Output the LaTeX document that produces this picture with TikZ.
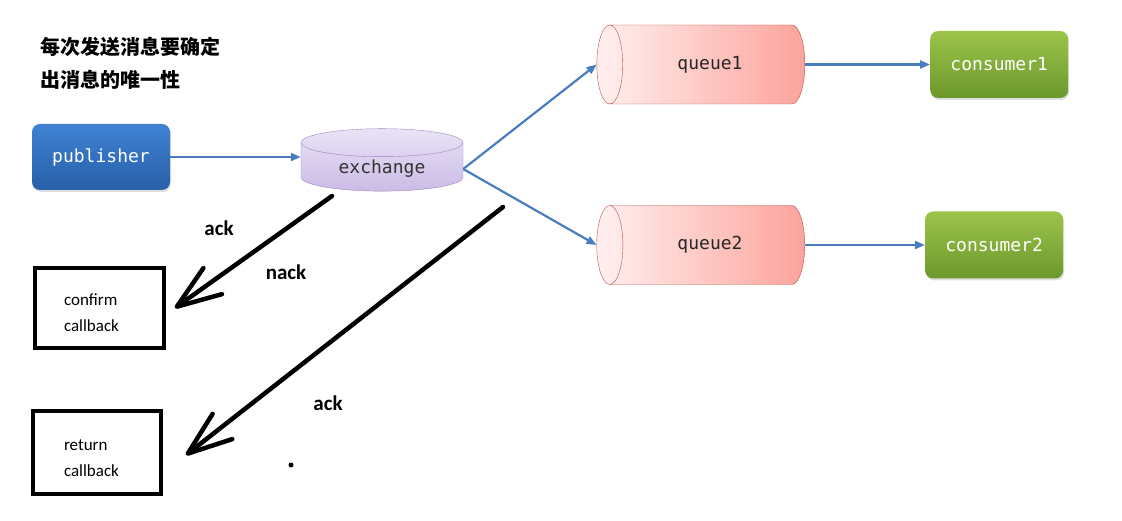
\documentclass[tikz,border=0pt]{standalone}
\usepackage{fontspec}
\setmainfont{Carlito}
\setmonofont{DejaVu Sans Mono}
\newfontfamily\cjk{Noto Sans CJK SC}
\usetikzlibrary{arrows.meta,positioning,calc,shapes.geometric,shadows}

\definecolor{flowblue}{HTML}{4A7CC0}
\definecolor{pubtop}{HTML}{3F82D4}
\definecolor{pubbot}{HTML}{2860A8}
\definecolor{exctop}{HTML}{EAE3F6}
\definecolor{excbot}{HTML}{CBBBE6}
\definecolor{excline}{HTML}{9A88C0}
\definecolor{qleft}{HTML}{FFF0F0}
\definecolor{qright}{HTML}{FCA39B}
\definecolor{qline}{HTML}{B8504A}
\definecolor{contop}{HTML}{9CC44B}
\definecolor{conbot}{HTML}{6C982C}

\begin{document}
\begin{tikzpicture}[x=1pt, y=-1pt,
  mono/.style={font=\ttfamily\fontsize{18}{22}\selectfont},
  pubbox/.style={mono, rounded corners=8pt, minimum width=138pt, minimum height=66pt, text=white, top color=pubtop, bottom color=pubbot, drop shadow={opacity=0.25, shadow xshift=1pt, shadow yshift=-2pt}},
  conbox/.style={mono, rounded corners=8pt, minimum width=138pt, minimum height=67pt, text=white, top color=contop, bottom color=conbot, drop shadow={opacity=0.25, shadow xshift=1pt, shadow yshift=-2pt}},
  exch/.style={mono, cylinder, shape border rotate=90, aspect=0.3, draw=excline, top color=exctop, bottom color=excbot, minimum width=162pt, minimum height=36pt, text=black!80},
  queue/.style={mono, cylinder, shape border rotate=180, aspect=1.1, draw=qline, left color=qleft, right color=qright, minimum width=79pt, minimum height=208pt, text=black!85},
  cbbox/.style={draw, line width=4pt, align=left, text width=71pt, inner xsep=29pt, font=\fontsize{17}{26}\selectfont},
  flow/.style={-{Triangle[length=10pt, width=8pt]}, flowblue, line width=2.2pt},
  hand/.style={-{Straight Barb[length=44pt, width=32pt, round]}, line width=4.5pt, line cap=round},
  tag/.style={font=\bfseries\fontsize{21}{24}\selectfont}
]
\useasboundingbox (0,0) rectangle (1122,521);

% title
\node[align=left, anchor=west, font=\cjk\bfseries\fontsize{20}{33}\selectfont] (title) at (37,63) {每次发送消息要确定\\出消息的唯一性};

% message flow
\node[pubbox] (pub) at (101,157) {publisher};
\node[exch] (ex) at (382,169) {exchange};
\node[queue] (q1) at (710,64.5) {queue1};
\node[queue] (q2) at (710,245) {queue2};
\node[conbox, right=125pt of q1] (c1) {consumer1};
\node[conbox, right=120pt of q2] (c2) {consumer2};

\draw[flow] (pub) -- (pub -| ex.west);
\draw[flow] (ex.east) -- (q1.west);
\draw[flow] (ex.east) -- (q2.west);
\draw[flow] (q1) -- (c1);
\draw[flow] (q2) -- (c2);

% callbacks
\node[cbbox, minimum height=80pt] (confirm) at (99.5,308) {\rule{0pt}{22pt}confirm\\callback};
\node[cbbox, minimum height=83pt, text width=66pt, inner xsep=31pt] (ret) at (97,452.5) {\rule{0pt}{22pt}return\\callback};

\coordinate (from1) at (332,196);
\coordinate (from2) at (503,207);
\draw[hand] (from1) -- ($(confirm.east)+(9,0)$);
\draw[hand] (from2) -- ($(ret.east)+(23,2.5)$);

\node[tag] (ack1) at (219,228) {ack};
\node[tag] (nack) at (286,272) {nack};
\node[tag] (ack2) at (328,403) {ack};
\node[circle, fill, inner sep=0pt, minimum size=5pt] (dot) at (291,465) {};

\end{tikzpicture}
\end{document}
